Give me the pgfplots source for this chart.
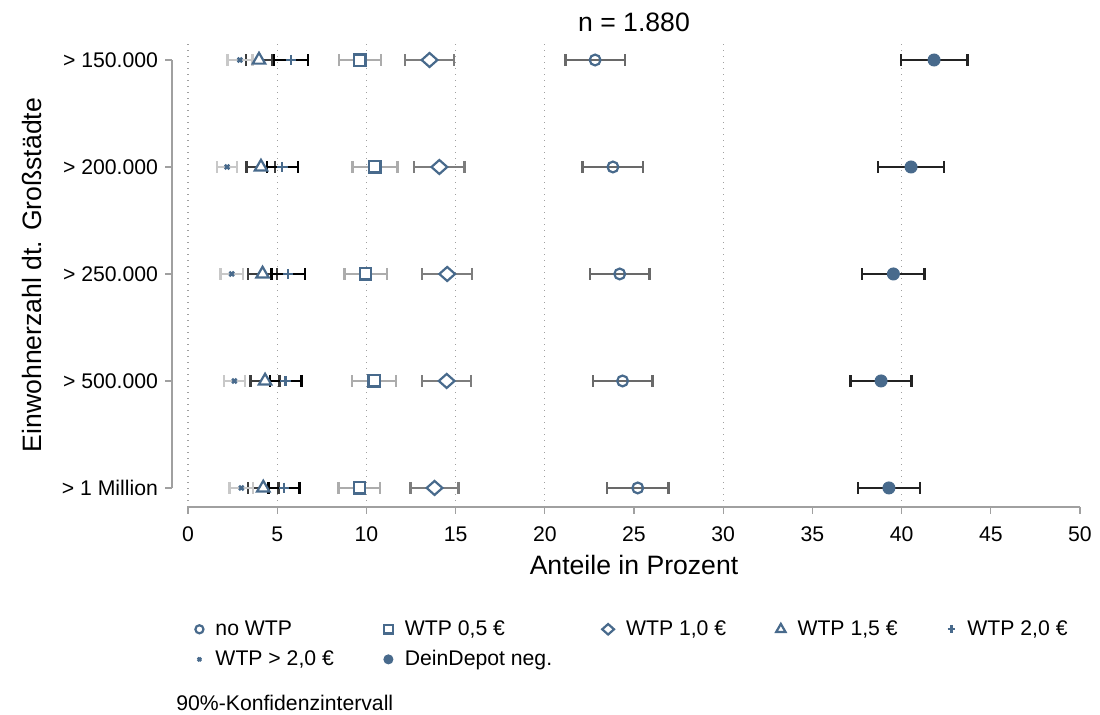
\documentclass[border=0pt]{standalone}
\usepackage{fontspec}
\setmainfont{Liberation Sans}
\usepackage{pgfplots}
\pgfplotsset{compat=1.18}
\definecolor{wtpblue}{RGB}{72,106,140}
\definecolor{axgray}{RGB}{160,160,160}
\definecolor{ciA}{RGB}{105,105,105}  % no WTP
\definecolor{ciB}{RGB}{172,172,172}  % WTP 0,5
\definecolor{ciC}{RGB}{125,125,125}  % WTP 1,0
\definecolor{ciD}{RGB}{60,60,60}     % WTP 1,5
\definecolor{ciE}{RGB}{0,0,0}        % WTP 2,0
\definecolor{ciF}{RGB}{200,200,200}  % WTP > 2,0
\definecolor{ciG}{RGB}{35,35,35}     % DeinDepot
\newcommand\ticksz{\fontsize{10.6pt}{12.7pt}\selectfont}
\newcommand\labsz{\fontsize{13.3pt}{16pt}\selectfont}

\pgfplotsset{
  ci/.style={error bars/.cd, x dir=both, x explicit,
    error bar style={#1, line width=1.2pt},
    error mark options={#1, line width=1.2pt, mark size=3pt, rotate=90}},
}

\begin{document}
\begin{tikzpicture}
\useasboundingbox (-94pt,-104pt) rectangle (456pt,253.5pt);
\begin{axis}[
  scale only axis, width=446pt, height=232pt,
  xmin=0, xmax=50, ymin=0.822, ymax=5.159,
  clip=false,
  axis line style={draw=none},
  xtick={0,5,...,50},
  ytick={1,2,3,4,5},
  yticklabels={> 1 Million, > 500.000, > 250.000, > 200.000, > 150.000},
  xtick pos=bottom, ytick pos=left,
  tick align=outside,
  major tick length=3.5pt,
  tick style={draw=none},
  yticklabel style={xshift=-8pt},
  xticklabel style={yshift=-3pt},
  tick label style={font=\ticksz, black},
  /pgf/number format/assume math mode=true,
  title={n = 1.880},
  title style={font=\labsz, at={(rel axis cs:0.5,1)}, anchor=base, yshift=-0.5pt},
  xlabel={Anteile in Prozent},
  xlabel style={font=\labsz, at={(rel axis cs:0.5,0)}, anchor=base, yshift=-34pt},
  ylabel={Einwohnerzahl dt. Großstädte},
  ylabel style={font=\labsz, at={(rel axis cs:0,0.5)}, anchor=center, yshift=78pt},
  legend columns=5,
  legend cell align=left,
  legend style={draw=none, font=\ticksz, at={(rel axis cs:0,0)}, anchor=north west,
    xshift=3.5pt, yshift=-54.5pt, inner sep=0pt, row sep=2pt,
    /tikz/every odd column/.append style={column sep=4pt},
    /tikz/every even column/.append style={column sep=23pt}},
  legend image code/.code={\draw[#1] plot coordinates {(0pt,0pt)};},
  legend image post style={/tikz/every mark/.append style={scale=0.75}},
]
% grid, axis lines and ticks
\pgfplotsinvokeforeach{0,5,10,15,20,30,40}{
  \draw[axgray, line width=0.6pt, dash pattern=on 0.6pt off 2.4pt]
    (axis cs:#1,0.822) -- (axis cs:#1,5.159);
}
\draw[axgray, line width=0.6pt] (rel axis cs:0,0) -- (rel axis cs:1,0);
\pgfplotsinvokeforeach{0,5,...,50}{
  \draw[axgray, line width=0.6pt] (axis cs:#1,0.822) -- ++(0pt,-3.5pt);
}
\draw[axgray, line width=0.6pt] ([xshift=-8pt]axis cs:0,1) -- ([xshift=-8pt]axis cs:0,5);
\pgfplotsinvokeforeach{1,...,5}{
  \draw[axgray, line width=0.6pt] ([xshift=-8pt]axis cs:0,#1) -- ++(-3.5pt,0pt);
}

\addplot[only marks, color=wtpblue, mark=o, mark size=2.7pt,
  mark options={line width=1.1pt, solid, fill=white}, ci=ciA] coordinates {
  (22.82,5) +- (1.66,0)
  (23.82,4) +- (1.70,0)
  (24.20,3) +- (1.66,0)
  (24.36,2) +- (1.67,0)
  (25.21,1) +- (1.72,0)
};
\addlegendentry{no WTP}

\addplot[only marks, color=wtpblue, mark=square*, mark size=2.8pt,
  mark options={line width=1.1pt, solid, fill=white}, ci=ciB] coordinates {
  (9.64,5) +- (1.18,0)
  (10.48,4) +- (1.27,0)
  (9.96,3) +- (1.18,0)
  (10.43,2) +- (1.23,0)
  (9.60,1) +- (1.17,0)
};
\addlegendentry{WTP 0,5 €}

\addplot[only marks, color=wtpblue, mark=diamond*, mark size=3.5pt,
  mark options={line width=1.1pt, solid, xscale=1.5, fill=white}, ci=ciC] coordinates {
  (13.54,5) +- (1.37,0)
  (14.09,4) +- (1.42,0)
  (14.53,3) +- (1.40,0)
  (14.50,2) +- (1.37,0)
  (13.82,1) +- (1.34,0)
};
\addlegendentry{WTP 1,0 €}

\addplot[only marks, color=wtpblue, mark=triangle*, mark size=3.6pt,
  mark options={line width=1.1pt, solid, fill=white}, ci=ciD] coordinates {
  (3.98,5) +- (0.73,0)
  (4.09,4) +- (0.80,0)
  (4.18,3) +- (0.80,0)
  (4.32,2) +- (0.81,0)
  (4.22,1) +- (0.85,0)
};
\addlegendentry{WTP 1,5 €}

\addplot[only marks, color=wtpblue, mark=+, mark size=2.6pt,
  mark options={line width=1.1pt, solid}, ci=ciE] coordinates {
  (5.76,5) +- (0.95,0)
  (5.29,4) +- (0.86,0)
  (5.62,3) +- (0.94,0)
  (5.47,2) +- (0.89,0)
  (5.38,1) +- (0.86,0)
};
\addlegendentry{WTP 2,0 €}

\addplot[only marks, color=wtpblue, mark=x, mark size=1.6pt,
  mark options={line width=1.2pt, solid}, ci=ciF] coordinates {
  (2.91,5) +- (0.70,0)
  (2.19,4) +- (0.56,0)
  (2.45,3) +- (0.62,0)
  (2.60,2) +- (0.59,0)
  (2.99,1) +- (0.67,0)
};
\addlegendentry{WTP > 2,0 €}

\addplot[only marks, color=wtpblue, mark=*, mark size=3pt,
  mark options={line width=0.5pt, solid, fill=wtpblue}, ci=ciG] coordinates {
  (41.82,5) +- (1.87,0)
  (40.53,4) +- (1.84,0)
  (39.54,3) +- (1.75,0)
  (38.85,2) +- (1.71,0)
  (39.29,1) +- (1.75,0)
};
\addlegendentry{DeinDepot neg.}
\end{axis}
\node[anchor=west, inner sep=0pt, font=\ticksz] at (-6pt,-98pt) {90\%-Konfidenzintervall};
\end{tikzpicture}
\end{document}
